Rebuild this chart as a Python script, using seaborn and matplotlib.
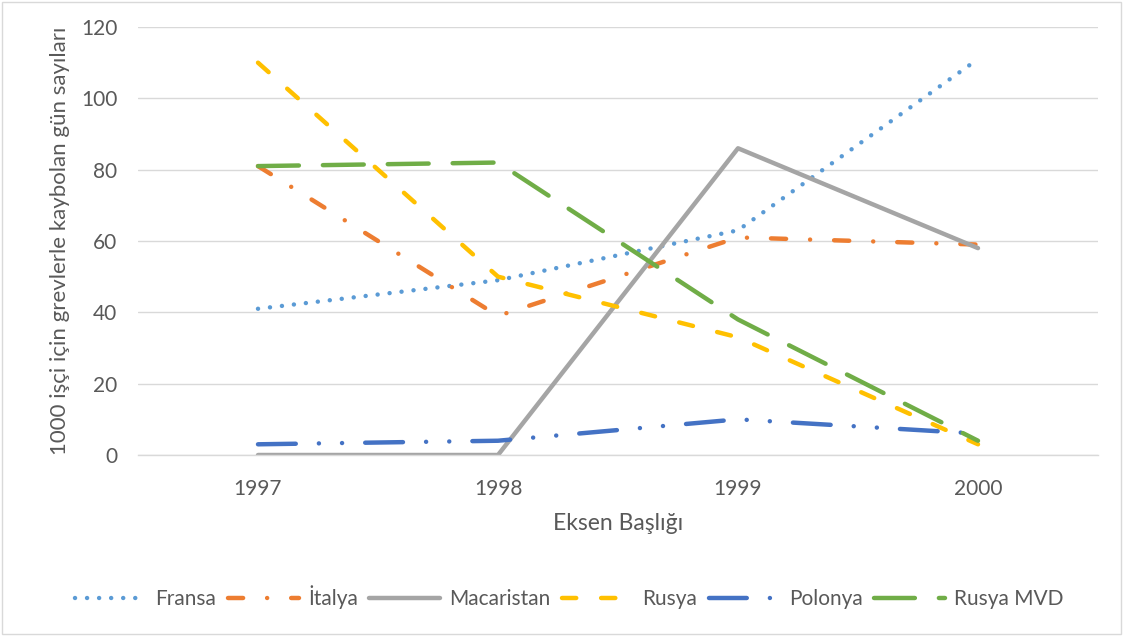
import pandas as pd
import matplotlib.pyplot as plt
import seaborn as sns
from matplotlib.patches import Rectangle

# Data
years = [1997, 1998, 1999, 2000]
fransa = [41, 49, 63, 111]
italya = [81, 39, 61, 59]
macaristan = [0, 0, 86, 58]
rusya = [110, 50, 33, 3]
polonya = [3, 4, 10, 6]
rusya_mvd = [81, 82, 38, 4]

series = ["Fransa", "İtalya", "Macaristan", "Rusya", "Polonya", "Rusya MVD"]
values = [fransa, italya, macaristan, rusya, polonya, rusya_mvd]

df = pd.DataFrame({
    "year": years * len(series),
    "country": [s for s in series for _ in years],
    "value": [v for vals in values for v in vals],
})

colors = {"Fransa": "#5B9BD5", "İtalya": "#ED7D31", "Macaristan": "#A5A5A5",
          "Rusya": "#FFC000", "Polonya": "#4472C4", "Rusya MVD": "#70AD47"}
dashes = {"Fransa": (0.01, 2.7),
          "İtalya": (3.4, 5.4, 0.01, 5.4),
          "Macaristan": "",
          "Rusya": (3.2, 5.6),
          "Polonya": (8.5, 5.2, 0.01, 5.2, 0.01, 5.2),
          "Rusya MVD": (9.2, 5.4)}

sns.set_style("white")
plt.rcParams["font.family"] = ["Lato", "DejaVu Sans"]
text_col = "#595959"

fig = plt.figure(figsize=(11.23, 6.36), dpi=100)
ax = fig.add_axes([138 / 1123, 1 - 455 / 636, 960 / 1123, 428 / 636])

sns.lineplot(data=df, x="year", y="value", hue="country", style="country",
             palette=colors, dashes=dashes, hue_order=series, style_order=series,
             linewidth=3.2, dash_capstyle="round", solid_capstyle="round",
             solid_joinstyle="round", ax=ax)

ax.set_xlim(1996.5, 2000.5)
ax.set_ylim(0, 120)
ax.set_yticks(range(0, 121, 20))
ax.set_xticks(years)
ax.set_xticklabels([str(y) for y in years])
ax.grid(axis="y", color="#D9D9D9", linewidth=1)
ax.set_axisbelow(True)
for side in ["left", "right", "top"]:
    ax.spines[side].set_visible(False)
ax.spines["bottom"].set_color("#D9D9D9")
ax.spines["bottom"].set_linewidth(1)
ax.tick_params(axis="both", length=0, labelsize=15, labelcolor=text_col)
ax.tick_params(axis="y", pad=15)
ax.tick_params(axis="x", pad=17)

ax.set_xlabel("Eksen Başlığı", fontsize=16.5, color=text_col, labelpad=10)
ax.set_ylabel("1000 işçi için grevlerle kaybolan gün sayıları", fontsize=16,
              color=text_col, labelpad=8)

# move the legend below the plot, in one row
handles, labels = ax.get_legend_handles_labels()
ax.get_legend().remove()
for h in handles:
    h.set_dash_capstyle("round")
    h.set_solid_capstyle("round")
fig.legend(handles, labels, loc="center", bbox_to_anchor=(569.5 / 1123, 1 - 597 / 636),
           ncol=6, frameon=False, fontsize=15, labelcolor=text_col,
           handlelength=3.4, handletextpad=0.45, columnspacing=0.55)

fig.patches.append(Rectangle((0.002, 0.003), 0.996, 0.994, transform=fig.transFigure,
                             fill=False, edgecolor="#D9D9D9", linewidth=1))

fig.savefig("out.png", dpi=100)
